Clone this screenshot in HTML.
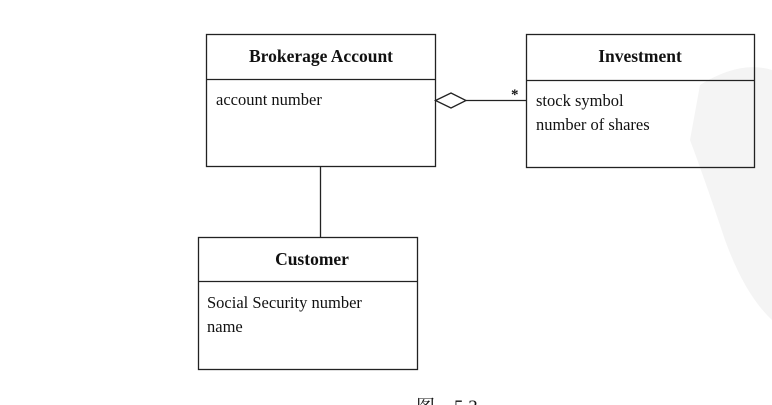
<!DOCTYPE html>
<html><head><meta charset="utf-8"><style>
html,body{margin:0;padding:0;background:#fff;}
svg{display:block;}
text{font-family:"Liberation Serif","Noto Serif CJK SC",serif;fill:#111;}
</style></head><body>
<svg width="772" height="405" viewBox="0 0 772 405" xmlns="http://www.w3.org/2000/svg">
<path d="M700 85 Q740 60 772 70 L772 320 Q745 295 725 240 Q705 180 690 140 Z" fill="#f4f4f4"/>
<g fill="none" stroke="#222" stroke-width="1.3">
<rect x="206.5" y="34.5" width="229" height="132"/>
<line x1="206" y1="79.5" x2="435" y2="79.5"/>
<rect x="526.5" y="34.5" width="228" height="133"/>
<line x1="526" y1="80.5" x2="754" y2="80.5"/>
<rect x="198.5" y="237.5" width="219" height="132"/>
<line x1="198" y1="281.5" x2="417" y2="281.5"/>
<line x1="320.5" y1="166" x2="320.5" y2="237"/>
<path d="M435.5 100.5 L451 93 L466 100.5 L451 108 Z" fill="#fff"/>
<line x1="466" y1="100.5" x2="526" y2="100.5"/>
</g>
<text x="321" y="62" font-size="17.5" font-weight="bold" text-anchor="middle">Brokerage Account</text>
<text x="216" y="105" font-size="16.5">account number</text>
<text x="640" y="62" font-size="17.5" font-weight="bold" text-anchor="middle">Investment</text>
<text x="536" y="106" font-size="16.5">stock symbol</text>
<text x="536" y="130" font-size="16.5">number of shares</text>
<text x="511" y="99" font-size="15" font-weight="bold">*</text>
<text x="312" y="265" font-size="17.5" font-weight="bold" text-anchor="middle">Customer</text>
<text x="207" y="308" font-size="16.5">Social Security number</text>
<text x="207" y="332" font-size="16.5">name</text>
<text x="416" y="413" font-size="19">图　5.3</text>
</svg>
</body></html>
